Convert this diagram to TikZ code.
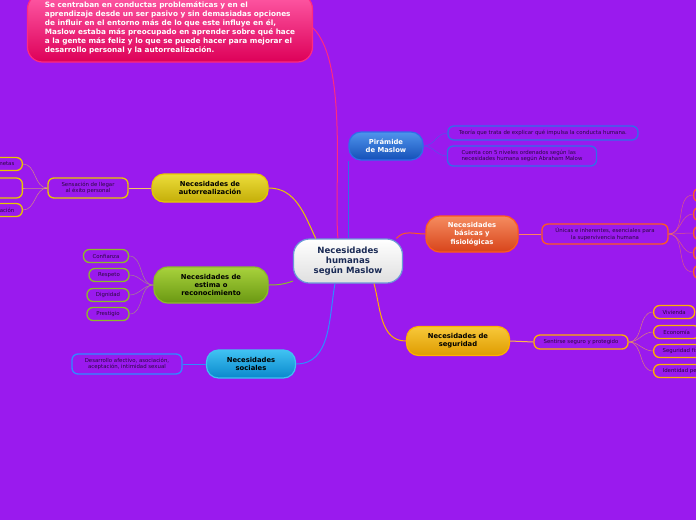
\documentclass[tikz,border=0pt]{standalone}
\usepackage{fontspec}
\setmainfont{DejaVu Sans}
\usetikzlibrary{positioning}

\definecolor{bg}{HTML}{9A1AEE}
\definecolor{leaftxt}{HTML}{2A0840}
\definecolor{navy}{HTML}{1A2A55}
\definecolor{pinkln}{HTML}{FF2A7F}
\definecolor{pinktop}{HTML}{FF5AA5}
\definecolor{pinkbot}{HTML}{DD0058}
\definecolor{blueln}{HTML}{2F6FE8}
\definecolor{bluetop}{HTML}{4F94EC}
\definecolor{bluebot}{HTML}{1550B8}
\definecolor{orangeln}{HTML}{FF5A1F}
\definecolor{orangetop}{HTML}{F58C60}
\definecolor{orangebot}{HTML}{D8441A}
\definecolor{amberln}{HTML}{FFB000}
\definecolor{ambertop}{HTML}{F8C83A}
\definecolor{amberbot}{HTML}{DE9C00}
\definecolor{yellowln}{HTML}{E8C800}
\definecolor{yellowtop}{HTML}{ECDD3A}
\definecolor{yellowbot}{HTML}{C4AE08}
\definecolor{greenln}{HTML}{8DBA2A}
\definecolor{greentop}{HTML}{A8D23C}
\definecolor{greenbot}{HTML}{6A9812}
\definecolor{cyanln}{HTML}{2E8CFF}
\definecolor{cyantop}{HTML}{40C2F2}
\definecolor{cyanbot}{HTML}{0A88CC}

\tikzset{
    branch/.style={draw, line width=1.2pt, rounded corners=12pt, inner sep=0pt, align=center,
        font=\fontsize{6.8}{8.2}\selectfont\bfseries},
    leaf/.style={draw, line width=1.3pt, rounded corners=6pt, fill=bg, inner sep=0pt, align=center,
        text=leaftxt, font=\fontsize{5.4}{6.4}\selectfont},
    link/.style={line width=1pt},
    twig/.style={line width=0.5pt, opacity=0.65}
}

\begin{document}
\begin{tikzpicture}[x=1pt, y=-1pt]

    \fill[bg] (0,0) rectangle (696,520);
    \useasboundingbox (0,0) rectangle (696,520);
    \clip (0,0) rectangle (696,520);

    \node[branch, rounded corners=16pt, minimum width=109pt, minimum height=44pt, draw=cyan!50!blue!60,
        top color=white, bottom color=gray!25, text=navy, font=\fontsize{8.6}{10.2}\selectfont\bfseries]
        (c) at (348,261) {Necesidades\\humanas\\según Maslow};

    \node[branch, rounded corners=15pt, minimum width=285pt, minimum height=68pt, draw=pinkln,
        top color=pinktop, bottom color=pinkbot, text=white, align=left,
        font=\fontsize{7.3}{9}\selectfont\bfseries]
        (n) at (170,28) {Se centraban en conductas problemáticas y en el\\
        aprendizaje desde un ser pasivo y sin demasiadas opciones\\
        de influir en el entorno más de lo que este influye en él,\\
        Maslow estaba más preocupado en aprender sobre qué hace\\
        a la gente más feliz y lo que se puede hacer para mejorar el\\
        desarrollo personal y la autorrealización.};

    \node[branch, minimum width=74pt, minimum height=28pt, draw=blueln,
        top color=bluetop, bottom color=bluebot, text=white]
        (p) at (386,146) {Pirámide\\de Maslow};
    \node[leaf, draw=blueln, minimum width=190pt, minimum height=14pt] (p1) at (543,133)
        {Teoría que trata de explicar qué impulsa la conducta humana.};
    \node[leaf, draw=blueln, minimum width=149pt, minimum height=20pt, align=left] (p2) at (522,156)
        {Cuenta con 5 niveles ordenados según las\\necesidades humana según Abraham Malow};

    \node[branch, rounded corners=14pt, minimum width=92pt, minimum height=36pt, draw=orangeln,
        top color=orangetop, bottom color=orangebot, text=white]
        (b) at (472,234) {Necesidades\\básicas y\\fisiológicas};
    \node[leaf, draw=orangeln, minimum width=126pt, minimum height=20pt] (b1) at (605,234)
        {Únicas e inherentes, esenciales para\\la supervivencia humana};
    \foreach \i/\yy in {1/195,2/214,3/233,4/253,5/272}
        \node[leaf, draw=orangeln, minimum width=40pt, minimum height=14pt, anchor=west]
            (o\i) at (693,\yy) {};

    \node[branch, minimum width=103pt, minimum height=29pt, draw=amberln,
        top color=ambertop, bottom color=amberbot, text=black]
        (s) at (458,341) {Necesidades de\\seguridad};
    \node[leaf, draw=amberln, minimum width=94pt, minimum height=14pt] (s1) at (581,342)
        {Sentirse seguro y protegido};
    \node[leaf, draw=amberln, minimum width=41pt, minimum height=13pt, anchor=west] (v1) at (653,312) {Vivienda};
    \node[leaf, draw=amberln, minimum width=46pt, minimum height=13pt, anchor=west, inner xsep=8pt] (v2) at (653,332) {Economía};
    \node[leaf, draw=amberln, minimum height=13pt, anchor=west, inner xsep=9pt] (v3) at (653,351) {Seguridad física};
    \node[leaf, draw=amberln, minimum height=13pt, anchor=west, inner xsep=9pt] (v4) at (653,371) {Identidad personal};

    \node[branch, minimum width=116pt, minimum height=28pt, draw=yellowln,
        top color=yellowtop, bottom color=yellowbot, text=black]
        (a) at (210,188) {Necesidades de\\autorrealización};
    \node[leaf, draw=yellowln, minimum width=80pt, minimum height=20pt] (a1) at (88,188)
        {Sensación de llegar\\al éxito personal};
    \node[leaf, draw=yellowln, minimum height=13pt, anchor=east, inner xsep=8pt] (l1) at (23,164) {metas};
    \node[leaf, draw=yellowln, minimum width=40pt, minimum height=20pt, anchor=east] (l2) at (23,188) {};
    \node[leaf, draw=yellowln, minimum height=13pt, anchor=east, inner xsep=8pt] (l3) at (23,210) {ación};

    \node[branch, rounded corners=14pt, minimum width=114pt, minimum height=36pt, draw=greenln,
        top color=greentop, bottom color=greenbot, text=black]
        (e) at (211,285) {Necesidades de\\estima o\\reconocimiento};
    \node[leaf, draw=greenln, minimum width=45pt, minimum height=13pt] (e1) at (106,256) {Confianza};
    \node[leaf, draw=greenln, minimum width=40pt, minimum height=13pt] (e2) at (109,275) {Respeto};
    \node[leaf, draw=greenln, minimum width=42pt, minimum height=13pt] (e3) at (108,295) {Dignidad};
    \node[leaf, draw=greenln, minimum width=42pt, minimum height=13pt] (e4) at (108,314) {Prestigio};

    \node[branch, minimum width=89pt, minimum height=28pt, draw=cyantop,
        top color=cyantop, bottom color=cyanbot, text=black]
        (k) at (251,364) {Necesidades\\sociales};
    \node[leaf, draw=cyanln, minimum width=110pt, minimum height=20pt] (k1) at (127,364)
        {Desarrollo afectivo, asociación,\\aceptación, intimidad sexual};

    \draw[link, pinkln] (n.east) to[out=-45, in=95, looseness=0.6] (c.114);
    \draw[link, blueln] (c.north) -- (c.north |- p.south);
    \draw[link, orangeln] (c.25) to[out=50, in=180] (b.west);
    \draw[link, amberln] (c.-41) to[out=-75, in=180] (s.west);
    \draw[link, yellowln] (a.east) to[out=0, in=115] (c.145);
    \draw[link, greenln] (e.east) to[out=0, in=200] (c.200);
    \draw[link, cyanln] (k.east) to[out=0, in=-100] (c.240);

    \draw[twig, blueln] (p.east) to[out=0, in=180] (p1.west);
    \draw[twig, blueln] (p.east) to[out=0, in=180] (p2.west);
    \draw[link, orangeln!60!pink] (b.east) -- (b1.west);
    \foreach \i in {1,...,5}
        \draw[twig, orangeln!70!pink] (b1.east) to[out=0, in=180] (o\i.west);
    \draw[link, amberln!60!pink] (s.east) -- (s1.west);
    \foreach \i in {1,...,4}
        \draw[twig, amberln!70!pink] (s1.east) to[out=0, in=180] (v\i.west);
    \draw[link, yellowln!50!pink] (a.west) -- (a1.east);
    \foreach \i in {1,2,3}
        \draw[twig, yellowln!60!pink] (a1.west) to[out=180, in=0] (l\i.east);
    \foreach \i in {1,...,4}
        \draw[twig, greenln!70!pink] (e.west) to[out=180, in=0] (e\i.east);
    \draw[link, cyanln] (k.west) -- (k1.east);

\end{tikzpicture}
\end{document}
